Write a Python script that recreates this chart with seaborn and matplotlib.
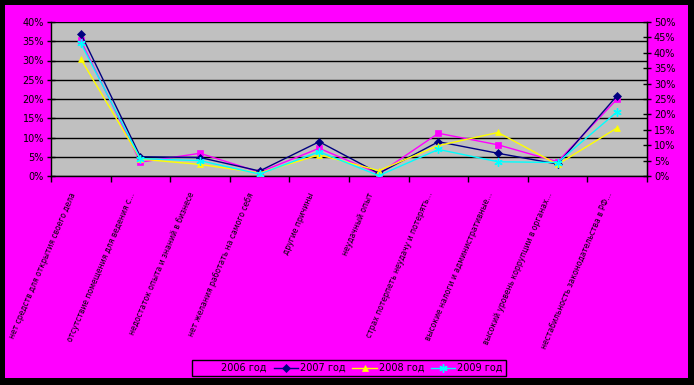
import matplotlib
matplotlib.use('Agg')
import matplotlib.pyplot as plt
from matplotlib.patches import Rectangle
import seaborn as sns
import pandas as pd
import numpy as np

categories = [
    "нет средств для открытия своего дела",
    "отсутствие помещения для ведения с...",
    "недостаток опыта и знаний в бизнесе",
    "нет желания работать на самого себя",
    "другие причины",
    "неудачный опыт",
    "страх потерпеть неудачу и потерять...",
    "высокие налоги и административные...",
    "высокий уровень коррупции в органах...",
    "нестабильность законодательства в РФ...",
]
years = ["2006 год", "2007 год", "2008 год", "2009 год"]
v2006 = [35.2, 3.6, 5.9, 1.0, 7.2, 0.6, 11.1, 8.1, 3.7, 20.0]
v2007 = [37.0, 5.0, 4.8, 1.3, 8.9, 0.7, 8.9, 5.9, 3.1, 20.9]
v2008 = [30.4, 4.4, 3.0, 0.8, 5.5, 1.4, 7.9, 11.3, 3.0, 12.5]
v2009 = [34.5, 4.5, 4.0, 0.5, 6.3, 0.1, 6.9, 3.7, 3.5, 16.7]
left_ticks = [0, 5, 10, 15, 20, 25, 30, 35, 40]
right_ticks = [0, 5, 10, 15, 20, 25, 30, 35, 40, 45, 50]

colors = ["#FF00FF", "#000080", "#FFFF00", "#00FFFF"]
markers = ["s", "D", "^", (6, 2, 0)]
msizes = [4, 4.5, 5, 6]

rows = []
for y, vals in zip(years, [v2006, v2007, v2008, v2009]):
    for i, v in enumerate(vals):
        rows.append({"year": y, "pos": i, "value": v})
df = pd.DataFrame(rows)

MAG = "#FF00FF"
fig = plt.figure(figsize=(6.94, 3.85), dpi=100, facecolor="black")
fig.patches.append(Rectangle((5 / 694, 7 / 385), 683 / 694, 373 / 385,
                             transform=fig.transFigure, facecolor=MAG,
                             edgecolor="none", zorder=-10))

ax = fig.add_axes([51 / 694, 209 / 385, 596 / 694, 154 / 385])
ax.set_facecolor("#C0C0C0")

for y, c, m, ms in zip(years, colors, markers, msizes):
    sub = df[df["year"] == y]
    sns.lineplot(data=sub, x="pos", y="value", ax=ax, color=c, marker=m,
                 markersize=ms, markeredgecolor=c, markerfacecolor=c,
                 markeredgewidth=1.0 if m == (6, 2, 0) else 0.5,
                 linewidth=1, label=y, zorder=3)

ax.set_xlim(-0.5, len(categories) - 0.5)
ax.set_ylim(0, 40)
ax.set_yticks(left_ticks)
ax.set_yticklabels([f"{t}%" for t in left_ticks], fontsize=7)
ax.yaxis.grid(True, color="black", linewidth=1)
ax.xaxis.grid(False)
ax.set_axisbelow(True)
ax.set_xticks(np.arange(-0.5, len(categories), 1.0))
ax.set_xticklabels([])
ax.tick_params(axis="x", which="major", direction="out", length=4, width=1, color="black")
ax.set_xticks(np.arange(len(categories)) - 0.13, minor=True)
ax.set_xticklabels(categories, minor=True, rotation=67, ha="right",
                   va="center", rotation_mode="anchor", fontsize=5.5)
ax.tick_params(axis="x", which="minor", length=0, pad=12)
ax.tick_params(axis="y", direction="inout", length=6, width=1, pad=2)
ax.set_xlabel("")
ax.set_ylabel("")
for s in ["left", "bottom", "right"]:
    ax.spines[s].set_color("black")
    ax.spines[s].set_linewidth(1)
ax.spines["top"].set_visible(False)
ax.get_legend().remove()

ax2 = ax.twinx()
ax2.set_ylim(0, 50)
ax2.set_yticks(right_ticks)
ax2.set_yticklabels([f"{t}%" for t in right_ticks], fontsize=7)
ax2.tick_params(axis="y", direction="inout", length=6, width=1, pad=2)
for s in ["top", "left", "bottom"]:
    ax2.spines[s].set_visible(False)
ax2.spines["right"].set_color("black")

handles, labels = ax.get_legend_handles_labels()
leg = fig.legend(handles, labels, loc="center", bbox_to_anchor=(349 / 694, 17 / 385),
                 ncol=4, fontsize=7, frameon=True, fancybox=False,
                 edgecolor="black", facecolor=MAG, framealpha=1,
                 handlelength=2.5, columnspacing=0.7, borderpad=0.35,
                 handletextpad=0.2)
leg.get_frame().set_linewidth(1)

fig.savefig("out.png", dpi=100, facecolor=fig.get_facecolor())
